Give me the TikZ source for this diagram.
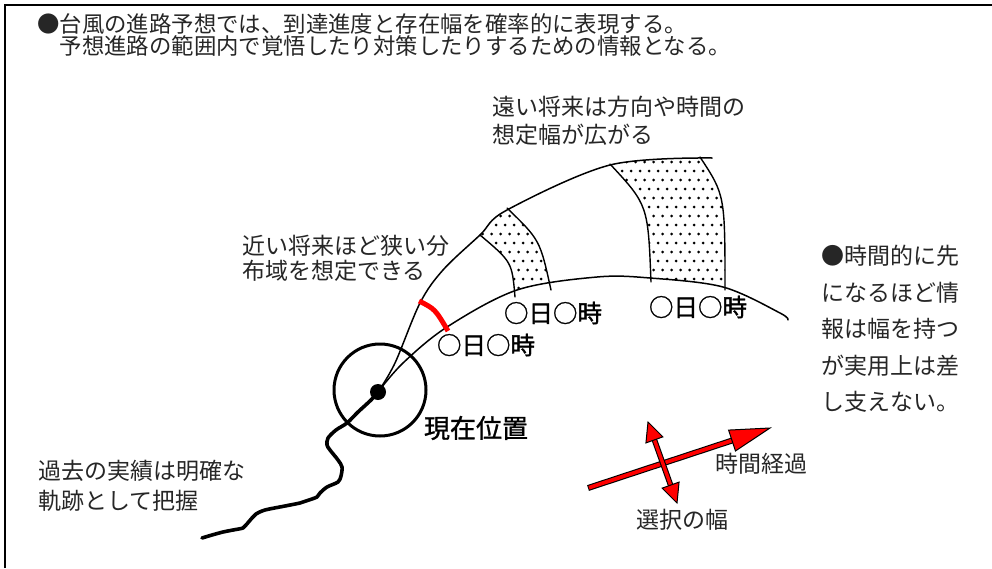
\documentclass[tikz,border=0pt]{standalone}
\usepackage{fontspec}
\newfontfamily\jp{Noto Sans CJK JP}
\newfontfamily\jpb{Noto Sans CJK JP}[FakeBold=1.2]
\usetikzlibrary{calc}
\begin{document}
\begin{tikzpicture}[x=1pt,y=-1pt,
  txt/.style={inner sep=0pt, anchor=west, align=left, text=black!85, font=\jp\fontsize{23}{#1}\selectfont},
  toptxt/.style={inner sep=0pt, anchor=west, align=left, text=black!85, font=\jp\fontsize{22.4}{22}\selectfont},
  timelbl/.style={inner sep=0pt, font=\jpb\fontsize{24.5}{26}\selectfont},
  poslbl/.style={inner sep=0pt, font=\jpb\fontsize{26}{28}\selectfont},
  arrlbl/.style={inner sep=0pt, text=black!85, font=\jp\fontsize{23}{25}\selectfont},
  curve/.style={line width=1.5pt, line cap=round},
  bandedge/.style={line width=1.4pt, line cap=round},
  headshape/.style={fill=red, draw=black, line width=1pt, line join=miter}]
\useasboundingbox (0,0) rectangle (992,568);
% frame (left and top edges)
\draw[line width=2pt] (5,568) -- (5,5) -- (992,5);

% texts
\node[toptxt] (t1) at (37,35) {●台風の進路予想では、到達進度と存在幅を確率的に表現する。\\　予想進路の範囲内で覚悟したり対策したりするための情報となる。};
\node[txt=28] (far) at (492,121) {遠い将来は方向や時間の\\想定幅が広がる};
\node[txt=25] (near) at (242,258) {近い将来ほど狭い分\\布域を想定できる};
\node[txt=36.5] (right) at (821,329) {●時間的に先\\になるほど情\\報は幅を持つ\\が実用上は差\\し支えない。};
\node[txt=30] (past) at (38,486) {過去の実績は明確な\\軌跡として把握};

% dotted bands
\begin{scope}
  \clip plot[smooth,tension=0.55] coordinates {(378,392) (395,363) (420,303) (443,270) (480,235) (507,210) (610,165) (712,158)}
    -- (800,150) -- (800,330)
    -- plot[smooth,tension=0.55] coordinates {(788,320) (780,313) (723,287) (650,278) (597,277) (517,290) (447,327) (403,363) (378,392)} -- cycle;
  \clip (465,222) -- (480,235) .. controls (512,262) .. (515,297) -- (516,312) -- (553,305) -- (551,290) .. controls (540,240) .. (507,208) -- (490,192) -- cycle
        (595,150) -- (610,164) .. controls (648,205) .. (651,282) -- (651,300) -- (726,305) -- (725,290) .. controls (725,195) .. (700,157) -- (690,140) -- cycle;
  \foreach \r in {0,...,20}{
    \foreach \c in {0,...,31}{
      \pgfmathsetmacro\xx{460+9*\c+4.5*mod(\r,2)}
      \pgfmathsetmacro\yy{135+9*\r}
      \fill (\xx,\yy) circle (1.5);
    }
  }
\end{scope}

% band edges
\draw[bandedge] (480,235) .. controls (512,262) .. (515,297);
\draw[bandedge] (507,208) .. controls (540,240) .. (551,290);
\draw[bandedge] (610,164) .. controls (648,205) .. (651,282);
\draw[bandedge] (700,157) .. controls (725,195) .. (725,290);

% forecast curves
\draw[curve] plot[smooth,tension=0.55] coordinates {(378,392) (395,363) (420,303) (443,270) (480,235) (507,210) (610,165) (712,158)};
\draw[curve] plot[smooth,tension=0.55] coordinates {(378,392) (403,363) (447,327) (517,290) (597,277) (650,278) (723,287) (780,313) (788,320)};

% red near-future width
\draw[red, line width=5pt] (419,301) .. controls (435,309) .. (448,331);

% past track
\draw[line width=3.6pt, line cap=round, line join=round] plot[smooth,tension=0.5] coordinates {(378,392) (371,400) (358,412) (347,423) (336,430) (328,438) (327,445) (330,450) (338,460) (342,467) (341,476) (338,482) (327,487) (320,493) (317,497) (306,501) (300,503) (285,506) (265,510) (256,514) (252,518) (246,525) (243,528) (233,530) (223,532) (212,535) (202,538)};

% current position
\node[draw, circle, line width=3pt, minimum size=92pt, inner sep=0pt] (zone) at (380,390) {};
\node[fill, circle, minimum size=16pt, inner sep=0pt] (pos) at (378,392) {};
\node[poslbl] (poslabel) at (476,428) {現在位置};

% time labels
\node[timelbl] (d1) at (486,345) {○日○時};
\node[timelbl] (d2) at (553,313) {○日○時};
\node[timelbl] (d3) at (698,307) {○日○時};

% time arrow
\coordinate (ta) at (588,488);
\coordinate (tb) at (770,428);
\coordinate (tbase) at ($(tb)!40pt!(ta)$);
\draw[line width=6pt, black] (ta) -- (tbase);
\draw[line width=3.8pt, red, shorten <=1pt] (ta) -- (tbase);
\filldraw[headshape] (tb) -- ($(tbase)!11pt!90:(tb)$) -- ($(tbase)!11pt!-90:(tb)$) -- cycle;

% width arrow
\coordinate (da) at (648,422);
\coordinate (db) at (677,503);
\coordinate (dabase) at ($(da)!19pt!(db)$);
\coordinate (dbbase) at ($(db)!19pt!(da)$);
\draw[line width=5.6pt, black] (dabase) -- (dbbase);
\draw[line width=3.4pt, red] (dabase) -- (dbbase);
\filldraw[headshape] (da) -- ($(dabase)!9pt!90:(da)$) -- ($(dabase)!9pt!-90:(da)$) -- cycle;
\filldraw[headshape] (db) -- ($(dbbase)!9pt!90:(db)$) -- ($(dbbase)!9pt!-90:(db)$) -- cycle;

\node[arrlbl] (timetxt) at (761,464) {時間経過};
\node[arrlbl] (widthtxt) at (682,520) {選択の幅};
\end{tikzpicture}
\end{document}
